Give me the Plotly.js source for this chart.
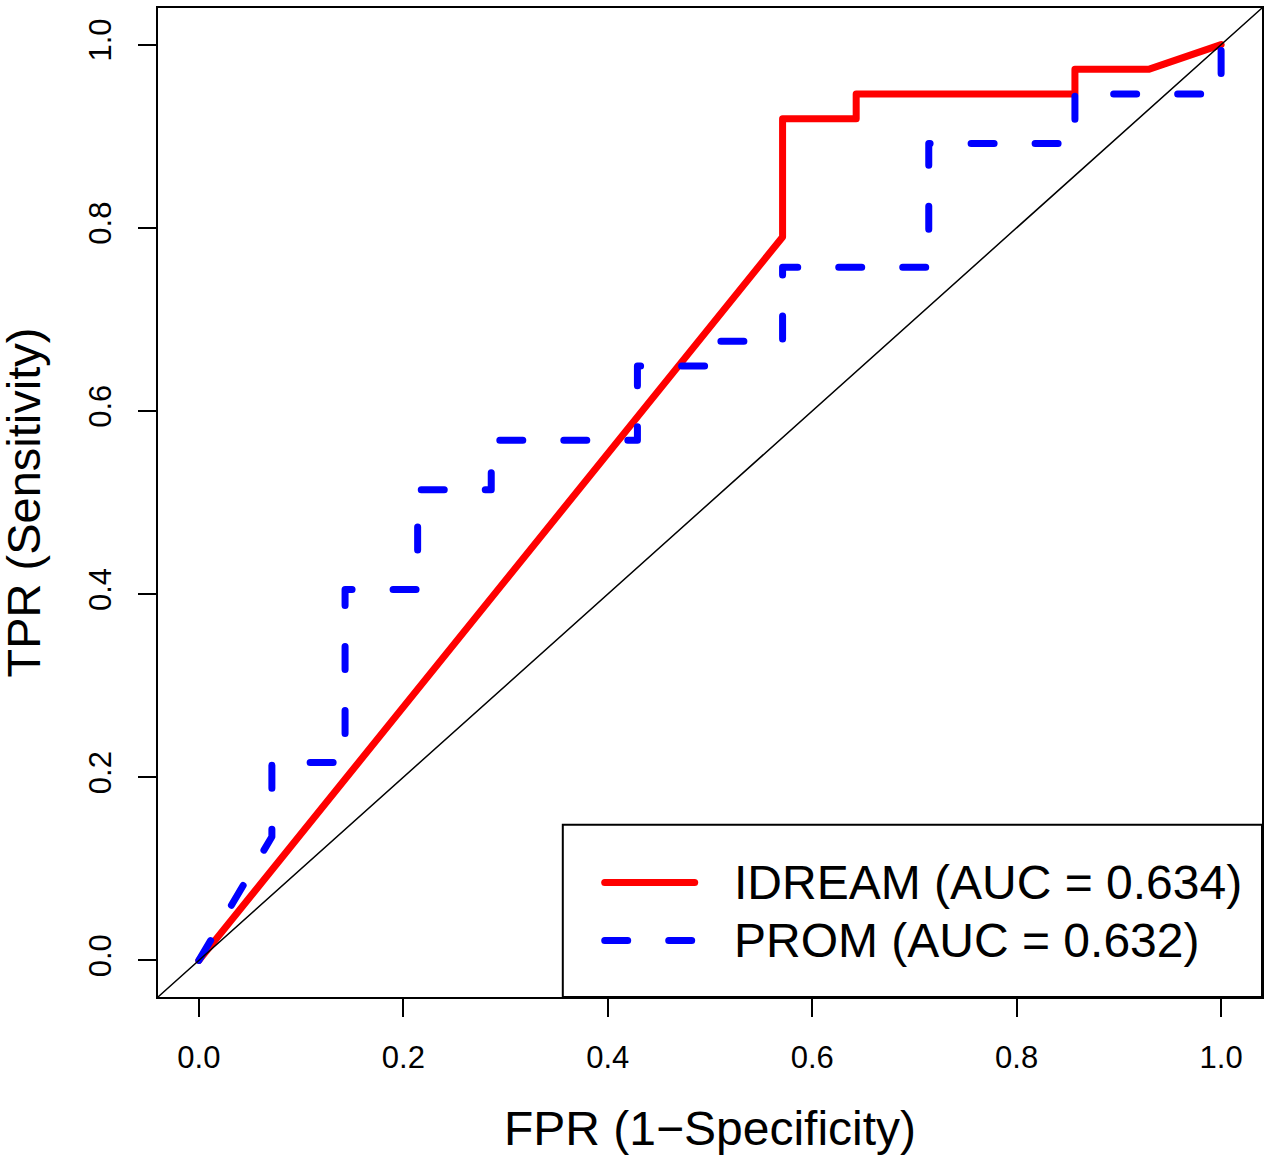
<!DOCTYPE html>
<html><head><meta charset="utf-8">
<script src="https://cdn.plot.ly/plotly-3.0.1.min.js"></script>
<style>
html,body{margin:0;padding:0;background:#fff;}
#chart{width:1272px;height:1155px;}
.scatterlayer .js-line{stroke-linecap:round !important;stroke-linejoin:round !important;}
.shapelayer path{stroke-linecap:round !important;}
</style></head><body><div id="chart"></div>
<script>
// ROC curve data
const idreamFPR = [0, 0.571, 0.571, 0.643, 0.643, 0.857, 0.857, 0.929, 1];
const idreamTPR = [0, 0.79, 0.919, 0.919, 0.946, 0.946, 0.973, 0.973, 1];
const promFPR = [0, 0.0714, 0.0714, 0.143, 0.143, 0.214, 0.214, 0.286, 0.286, 0.429, 0.429, 0.5, 0.5, 0.571, 0.571, 0.714, 0.714, 0.857, 0.857, 1, 1];
const promTPR = [0, 0.135, 0.216, 0.216, 0.405, 0.405, 0.514, 0.514, 0.568, 0.568, 0.649, 0.649, 0.676, 0.676, 0.757, 0.757, 0.892, 0.892, 0.946, 0.946, 1];
const seriesNames = ["IDREAM (AUC = 0.634)", "PROM (AUC = 0.632)"];
const tickVals = [0, 0.2, 0.4, 0.6, 0.8, 1.0];
const tickText = ["0.0", "0.2", "0.4", "0.6", "0.8", "1.0"];

const FONT = '"Liberation Sans", Arial, Helvetica, sans-serif';
const DASH = '23px,41px';

const traces = [
  {x: idreamFPR, y: idreamTPR, mode: 'lines', name: seriesNames[0],
   line: {color: '#ff0000', width: 7}, showlegend: false, hoverinfo: 'skip'},
  {x: promFPR, y: promTPR, mode: 'lines', name: seriesNames[1],
   line: {color: '#0000ff', width: 7, dash: DASH}, showlegend: false, hoverinfo: 'skip'}
];

const axisCommon = {
  range: [-0.04, 1.04], showgrid: false, zeroline: false,
  showline: true, mirror: true, linecolor: '#000', linewidth: 2,
  ticks: 'outside', ticklen: 18, tickwidth: 2, tickcolor: '#000',
  tickvals: tickVals, ticktext: tickText,
  tickfont: {family: FONT, size: 31, color: '#000'},
  fixedrange: true
};

const layout = {
  width: 1272, height: 1155,
  margin: {l: 158, r: 10, t: 8, b: 158},
  paper_bgcolor: '#fff', plot_bgcolor: '#fff',
  font: {family: FONT, color: '#000'},
  xaxis: Object.assign({}, axisCommon, {ticklabelstandoff: 14}),
  yaxis: Object.assign({}, axisCommon, {tickangle: -90, ticklabelstandoff: 15}),
  shapes: [
    // reference diagonal
    {type: 'line', xref: 'paper', yref: 'paper', x0: 0, y0: 0, x1: 1, y1: 1,
     line: {color: '#000', width: 1.5}, layer: 'above'},
    // legend box
    {type: 'rect', xref: 'x', yref: 'y', x0: 0.356, x1: 1.04, y0: -0.04, y1: 0.148,
     line: {color: '#000', width: 2}, fillcolor: '#fff', layer: 'above'},
    {type: 'line', xref: 'x', yref: 'y', x0: 0.397, x1: 0.485, y0: 0.085, y1: 0.085,
     line: {color: '#ff0000', width: 7}, layer: 'above'},
    {type: 'line', xref: 'x', yref: 'y', x0: 0.397, x1: 0.485, y0: 0.0218, y1: 0.0218,
     line: {color: '#0000ff', width: 7, dash: DASH}, layer: 'above'}
  ],
  annotations: [
    {xref: 'x', yref: 'y', x: 0.522, y: 0.085, xanchor: 'left', yanchor: 'middle',
     text: seriesNames[0], showarrow: false, font: {family: FONT, size: 48, color: '#000'}},
    {xref: 'x', yref: 'y', x: 0.522, y: 0.0218, xanchor: 'left', yanchor: 'middle',
     text: seriesNames[1], showarrow: false, font: {family: FONT, size: 48, color: '#000'}},
    {xref: 'paper', yref: 'paper', x: 0.5, y: 0, xanchor: 'center', yanchor: 'middle', yshift: -131,
     text: 'FPR (1\u2212Specificity)', showarrow: false, font: {family: FONT, size: 48, color: '#000'}},
    {xref: 'paper', yref: 'paper', x: 0, y: 0.5, xanchor: 'center', yanchor: 'middle', xshift: -135,
     textangle: -90, text: 'TPR (Sensitivity)', showarrow: false, font: {family: FONT, size: 47, color: '#000'}}
  ]
};

Plotly.newPlot('chart', traces, layout, {staticPlot: true, displayModeBar: false});
</script></body></html>
